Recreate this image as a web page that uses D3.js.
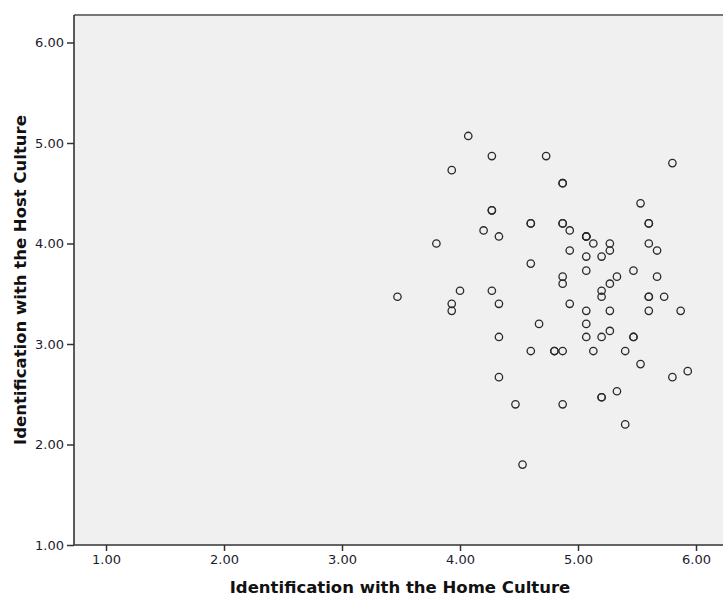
<!DOCTYPE html>
<html>
<head>
<meta charset="utf-8">
<script src="https://cdn.jsdelivr.net/npm/d3@7"></script>
<style>
  body { margin: 0; background: #fff; }
  text { font-family: "DejaVu Sans", Verdana, sans-serif; }
</style>
</head>
<body>
<svg id="chart" width="723" height="596"></svg>
<script>
// identification scores (home culture, host culture)
var homeCulture = [3.47, 3.80, 3.93, 3.93, 3.93, 4.00, 4.07, 4.20, 4.27, 4.27, 4.27, 4.27,
    4.33, 4.33, 4.33, 4.33, 4.47, 4.53, 4.60, 4.60, 4.60, 4.60, 4.67, 4.73, 4.80, 4.80,
    4.87, 4.87, 4.87, 4.87, 4.87, 4.87, 4.87, 4.87, 4.93, 4.93, 4.93, 5.07, 5.07, 5.07,
    5.07, 5.07, 5.07, 5.07, 5.07, 5.13, 5.13, 5.20, 5.20, 5.20, 5.20, 5.20, 5.20, 5.27,
    5.27, 5.27, 5.27, 5.27, 5.33, 5.33, 5.40, 5.40, 5.47, 5.47, 5.47, 5.53, 5.53, 5.60,
    5.60, 5.60, 5.60, 5.60, 5.60, 5.67, 5.67, 5.73, 5.80, 5.80, 5.87, 5.93];
var hostCulture = [3.47, 4.00, 4.73, 3.40, 3.33, 3.53, 5.07, 4.13, 4.87, 4.33, 4.33, 3.53,
    4.07, 3.40, 3.07, 2.67, 2.40, 1.80, 4.20, 4.20, 3.80, 2.93, 3.20, 4.87, 2.93, 2.93,
    4.60, 4.60, 4.20, 4.20, 3.67, 3.60, 2.93, 2.40, 4.13, 3.93, 3.40, 4.07, 4.07, 3.87,
    3.73, 3.33, 3.20, 3.07, 4.07, 4.00, 2.93, 3.87, 3.53, 3.47, 3.07, 2.47, 2.47, 4.00,
    3.93, 3.60, 3.33, 3.13, 3.67, 2.53, 2.93, 2.20, 3.73, 3.07, 3.07, 4.40, 2.80, 4.20,
    4.20, 4.00, 3.47, 3.47, 3.33, 3.93, 3.67, 3.47, 4.80, 2.67, 3.33, 2.73];
var tickValues = [1, 2, 3, 4, 5, 6];
var xTitle = "Identification with the Home Culture";
var yTitle = "Identification with the Host Culture";

var points = homeCulture.map((d, i) => ({home: d, host: hostCulture[i]}));

var svg = d3.select("#chart");

var x = d3.scaleLinear().domain([1, 6]).range([106, 696]);
var y = d3.scaleLinear().domain([1, 6]).range([545, 42.5]);

var plotLeft = 74, plotTop = 15, plotBottom = y(1), plotRight = 730;

// plot background
svg.append("rect")
    .attr("x", plotLeft).attr("y", plotTop)
    .attr("width", plotRight - plotLeft).attr("height", plotBottom - plotTop)
    .attr("fill", "#f0f0f0");

svg.append("line")
    .attr("x1", plotLeft).attr("x2", plotRight)
    .attr("y1", plotTop).attr("y2", plotTop)
    .attr("stroke", "#777").attr("stroke-width", 2);

var xAxis = svg.append("g")
    .attr("transform", "translate(0," + plotBottom + ")")
    .call(d3.axisBottom(x).tickValues(tickValues).tickSize(6).tickFormat(d3.format(".2f")));
xAxis.select(".domain").attr("d", "M" + plotLeft + ",0H" + plotRight);

var yAxis = svg.append("g")
    .attr("transform", "translate(" + plotLeft + ",0)")
    .call(d3.axisLeft(y).tickValues(tickValues).tickSize(7).tickFormat(d3.format(".2f")));
yAxis.select(".domain").attr("d", "M0," + plotTop + "V" + plotBottom);

svg.selectAll(".domain").attr("stroke", "#333").attr("stroke-width", 1.6);
svg.selectAll(".tick line").attr("stroke", "#333").attr("stroke-width", 1.5);
svg.selectAll(".tick text")
    .attr("fill", "#1c1c30")
    .style("font-size", "13px")
    .style("font-family", "'DejaVu Sans', Verdana, sans-serif");
xAxis.selectAll(".tick text").attr("dy", "0.71em").attr("y", 10);
yAxis.selectAll(".tick text").attr("x", -10);

// scatter points
svg.append("g").selectAll("circle")
    .data(points)
    .enter()
    .append("circle")
    .attr("cx", d => x(d.home))
    .attr("cy", d => y(d.host))
    .attr("r", 3.7)
    .attr("fill", "none")
    .attr("stroke", "#2a2a2a")
    .attr("stroke-width", 1.3);

svg.append("text")
    .attr("x", 400).attr("y", 593)
    .attr("text-anchor", "middle")
    .style("font-size", "16.5px").style("font-weight", "bold")
    .attr("fill", "#111")
    .text(xTitle);

svg.append("text")
    .attr("transform", "translate(26,280) rotate(-90)")
    .attr("text-anchor", "middle")
    .style("font-size", "16.5px").style("font-weight", "bold")
    .attr("fill", "#111")
    .text(yTitle);
</script>
</body>
</html>
